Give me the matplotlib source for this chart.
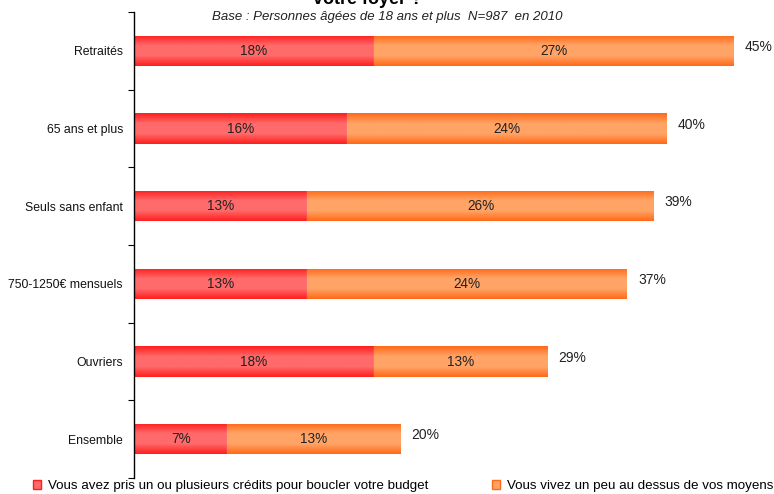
import numpy as np
import matplotlib
matplotlib.use("Agg")
import matplotlib.pyplot as plt
from matplotlib.patches import Patch
from matplotlib.colors import LinearSegmentedColormap

plt.rcParams['font.family'] = ['Liberation Sans', 'DejaVu Sans']

# Données
categories = ["Retraités", "65 ans et plus", "Seuls sans enfant",
              "750-1250€ mensuels", "Ouvriers", "Ensemble"]
credits = [18, 16, 13, 13, 18, 7]
au_dessus = [27, 24, 26, 24, 13, 13]
totaux = [45, 40, 39, 37, 29, 20]

serie1 = "Vous avez pris un ou plusieurs crédits pour boucler votre budget"
serie2 = "Vous vivez un peu au dessus de vos moyens"

rouge_bord, rouge_centre = "#FF1E1E", "#FF6A6A"
orange_bord, orange_centre = "#FF6A18", "#FFA466"

fig = plt.figure(figsize=(7.74, 4.94), dpi=100)
ax = fig.add_axes([134 / 774, 16 / 494, 640 / 774, 466 / 494])

y = np.arange(len(categories))
h = 0.39

def barres_degrade(gauche, largeurs, bord, centre):
    cmap = LinearSegmentedColormap.from_list("g", [bord, centre, centre, bord])
    grad = np.linspace(0, 1, 64).reshape(-1, 1)
    barres = ax.barh(y, largeurs, left=gauche, height=h, color=centre,
                     edgecolor="white", linewidth=0.8, zorder=2)
    for b in barres:
        x0, y0 = b.get_x(), b.get_y()
        im = ax.imshow(grad, cmap=cmap, aspect="auto", zorder=2,
                       extent=(x0, x0 + b.get_width(), y0, y0 + b.get_height()))
        im.set_clip_path(b)
    return barres

barres_degrade(np.zeros(len(y)), credits, rouge_bord, rouge_centre)
barres_degrade(credits, au_dessus, orange_bord, orange_centre)

for i in range(len(y)):
    fin = credits[i] + au_dessus[i]
    ax.text(credits[i] / 2, y[i], f"{credits[i]}%", ha="center", va="center",
            fontsize=9.8, color="#222222", zorder=3)
    ax.text(credits[i] + au_dessus[i] / 2, y[i], f"{au_dessus[i]}%", ha="center",
            va="center", fontsize=9.8, color="#222222", zorder=3)
    ax.text(fin + 0.8, y[i] - 0.05, f"{totaux[i]}%", ha="left", va="center",
            fontsize=10, color="#222222")

ax.set_xlim(0, 48)
ax.set_ylim(len(y) - 0.5, -0.5)
ax.set_yticks(y)
ax.set_yticklabels(categories, fontsize=8.8, color="#111111")
ax.set_yticks(np.arange(-0.5, len(y)), minor=True)
ax.tick_params(axis="y", which="major", length=0, pad=8)
ax.tick_params(axis="y", which="minor", length=4, width=0.8, direction="out")
ax.set_xticks([])
for s in ["top", "right", "bottom"]:
    ax.spines[s].set_visible(False)
ax.spines["left"].set_linewidth(1)

fig.text(0.475, 1.0, "votre foyer ?", ha="center", va="center",
         fontsize=13, fontweight="bold")
fig.text(0.5, 0.965, "Base : Personnes âgées de 18 ans et plus  N=987  en 2010",
         ha="center", va="center", fontsize=9.5, style="italic", color="#222222")

poignees = [Patch(facecolor=rouge_centre, edgecolor=rouge_bord),
            Patch(facecolor=orange_centre, edgecolor=orange_bord)]
kw = dict(loc="lower left", frameon=False, fontsize=9.6, handlelength=0.6,
          handleheight=0.6, handletextpad=0.5, borderaxespad=0, borderpad=0)
fig.legend([poignees[0]], [serie1], bbox_to_anchor=(33 / 774, 2 / 494), **kw)
fig.legend([poignees[1]], [serie2], bbox_to_anchor=(492 / 774, 2 / 494), **kw)

fig.savefig("out.png", dpi=100)
